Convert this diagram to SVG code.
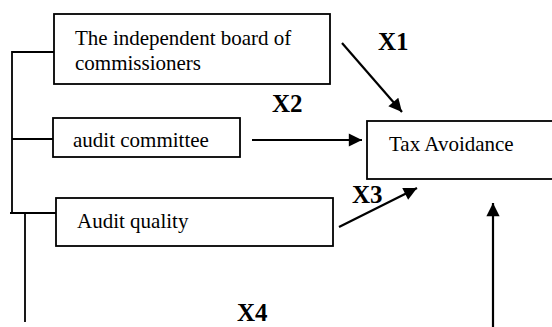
<svg xmlns="http://www.w3.org/2000/svg" width="552" height="327" viewBox="0 0 552 327">
<style>
.box{fill:#fff;stroke:#000;stroke-width:1.8}
.t{font-family:"Liberation Serif","Times New Roman",serif;font-size:21px;fill:#000}
.x{font-family:"Liberation Serif","Times New Roman",serif;font-size:25px;font-weight:bold;fill:#000}
.ln{stroke:#000;stroke-width:1.8;fill:none}
.ar{stroke:#000;stroke-width:2.2;fill:none;marker-end:url(#ah)}
</style>
<defs>
<marker id="ah" viewBox="0 0 10 10" refX="10" refY="5" markerWidth="7" markerHeight="6" markerUnits="strokeWidth" orient="auto">
<path d="M0,0 L10,5 L0,10 z" fill="#000"/>
</marker>
</defs>
<rect width="552" height="327" fill="#fff"/>
<g id="board">
<rect class="box" x="54" y="14" width="276" height="70"/>
<text class="t" x="75" y="45">The independent board of</text>
<text class="t" x="75" y="70">commissioners</text>
</g>
<g id="audit-committee">
<rect class="box" x="53" y="118" width="187" height="39"/>
<text class="t" x="73" y="147">audit committee</text>
</g>
<g id="audit-quality">
<rect class="box" x="56" y="198" width="277" height="48"/>
<text class="t" x="77" y="228">Audit quality</text>
</g>
<g id="tax-avoidance">
<rect class="box" x="367" y="121" width="200" height="58"/>
<text class="t" x="389" y="151">Tax Avoidance</text>
</g>
<g id="connectors">
<path class="ln" d="M54,52 H12 V213 M12,139 H53 M10,213 H56 M25,213 V322"/>
<line class="ar" x1="342" y1="43" x2="402" y2="112"/>
<line class="ar" x1="252" y1="140" x2="362" y2="140"/>
<line class="ar" x1="339" y1="227" x2="417" y2="188"/>
<line class="ar" x1="493" y1="327" x2="493" y2="203"/>
</g>
<g id="labels">
<text class="x" x="378" y="50">X1</text>
<text class="x" x="272" y="112">X2</text>
<text class="x" x="352" y="203">X3</text>
<text class="x" x="237" y="321">X4</text>
</g>
</svg>
